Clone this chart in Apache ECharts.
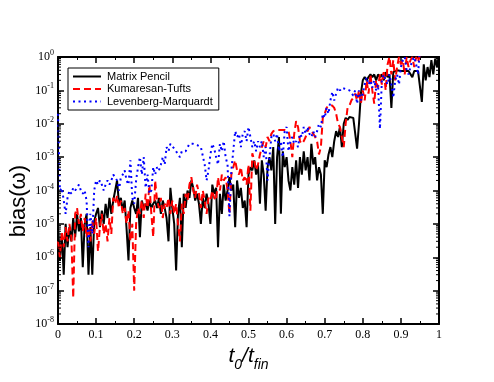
<!DOCTYPE html>
<html>
<head>
<meta charset="utf-8">
<script src="https://cdn.jsdelivr.net/npm/echarts@6/dist/echarts.min.js"></script>
<style>html,body{margin:0;padding:0;background:#fff;}#c{width:494px;height:382px;}</style>
</head>
<body>
<div id="c"></div>
<script>
const seriesNames = ['Matrix Pencil', 'Kumaresan-Tufts', 'Levenberg-Marquardt'];
const xTicks = [0, 0.1, 0.2, 0.3, 0.4, 0.5, 0.6, 0.7, 0.8, 0.9, 1];
const yTickExponents = [-8, -7, -6, -5, -4, -3, -2, -1, 0];

const t = [0,.005,.01,.015,.02,.025,.03,.035,.04,.045,.05,.055,.06,.065,.07,.075,.08,.085,.09,.095,
.1,.105,.11,.115,.12,.125,.13,.135,.14,.145,.15,.155,.16,.165,.17,.175,.18,.185,.19,.195,
.2,.205,.21,.215,.22,.225,.23,.235,.24,.245,.25,.255,.26,.265,.27,.275,.28,.285,.29,.295,
.3,.305,.31,.315,.32,.325,.33,.335,.34,.345,.35,.355,.36,.365,.37,.375,.38,.385,.39,.395,
.4,.405,.41,.415,.42,.425,.43,.435,.44,.445,.45,.455,.46,.465,.47,.475,.48,.485,.49,.495,
.5,.505,.51,.515,.52,.525,.53,.535,.54,.545,.55,.555,.56,.565,.57,.575,.58,.585,.59,.595,
.6,.605,.61,.615,.62,.625,.63,.635,.64,.645,.65,.655,.66,.665,.67,.675,.68,.685,.69,.695,
.7,.705,.71,.715,.72,.725,.73,.735,.74,.745,.75,.755,.76,.765,.77,.775,.78,.785,.79,.795,
.8,.805,.81,.815,.82,.825,.83,.835,.84,.845,.85,.855,.86,.865,.87,.875,.88,.885,.89,.895,
.9,.905,.91,.915,.92,.925,.93,.935,.94,.945,.95,.955,.96,.965,.97,.975,.98,.985,.99,.995,1];

const matrixPencil = [
1e-5,8e-7,5e-6,3e-7,1e-5,2e-6,8e-6,3e-6,1.5e-5,4e-6,
2e-5,6e-6,1.5e-5,5e-7,1e-5,2e-5,3e-7,8e-6,3e-7,1.2e-5,
2e-5,3e-5,8e-6,2.5e-5,1e-5,4e-5,1.5e-5,6e-5,2e-5,5e-5,
1e-4,2e-4,4e-5,6e-5,2.5e-5,5e-5,7e-6,8e-7,3e-5,5e-5,
3e-5,2e-5,6e-5,4e-6,5e-5,3e-5,4e-5,2.5e-5,5e-5,3e-5,
4e-5,5e-5,3e-5,6e-5,2e-5,5e-5,3e-5,1.5e-5,3e-6,1.2e-4,
3e-5,1e-5,4e-7,2e-5,6e-5,2e-6,8e-5,3e-5,1e-4,6e-5,
2e-4,1.2e-4,5e-5,8e-5,4e-5,1e-5,6e-5,3e-5,8e-5,4e-5,
1e-5,1.5e-4,8e-5,1.2e-4,2e-6,8e-5,2e-5,1.5e-4,5e-5,1e-4,
2.5e-4,1e-4,1.5e-4,8e-6,2e-4,6e-5,1.2e-4,3e-5,5e-5,8e-6,
3e-4,5e-4,4e-4,8e-4,3e-4,6e-4,4e-5,8e-4,3e-4,2.5e-5,
5e-4,1e-3,4e-4,2e-3,1e-5,1e-3,4e-3,2e-5,1.5e-3,5e-4,
1e-3,2e-4,1e-4,5e-4,1.5e-4,8e-4,1.2e-4,1e-3,3e-4,1.5e-3,
4e-4,1e-3,2e-4,2.5e-3,6e-4,1e-3,2e-4,5e-4,3e-4,2e-5,
8e-4,5e-4,1.2e-3,2e-3,1e-3,3e-3,6e-3,4e-3,8e-3,2e-3,
1e-2,1.5e-2,1.3e-2,1.6e-2,1.5e-2,1.5e-2,1.4e-2,1.8e-3,1e-2,8e-2,
2e-1,2.5e-1,2e-1,2.5e-1,3e-1,2.5e-1,3e-1,2e-1,3e-1,2.5e-1,
3e-1,2e-1,3.5e-1,2.5e-1,3e-1,3e-2,3.5e-1,4e-1,4e-1,4e-1,
3.8e-1,3.8e-1,3.8e-1,3.8e-1,3.8e-1,3.8e-1,2.5e-1,3.8e-1,3.8e-1,3.8e-1,
3.8e-1,4.5e-2,6e-1,2e-1,5e-1,2.5e-1,8e-1,3e-1,9e-1,5e-1,1.2];

const kumaresanTufts = [
3e-6,1e-6,6e-6,2e-6,8e-6,3e-6,1e-5,4e-6,6e-8,2e-5,
3e-5,1e-5,2e-5,6e-6,1.5e-5,4e-6,8e-6,3e-6,1.2e-5,5e-6,
1.5e-5,1.5e-6,8e-6,2e-5,5e-6,1e-5,3e-6,1.5e-5,5e-6,6e-5,
4e-5,7e-5,3e-5,5e-5,2e-5,3e-5,1e-5,2.5e-5,3e-6,1e-5,
1e-7,1e-5,3e-5,2e-5,5e-5,1.5e-5,8e-5,3e-5,1.5e-4,2e-5,
4e-6,2e-4,5e-5,3e-5,6e-5,1.5e-5,4e-5,3e-5,6e-5,2e-5,
5e-5,2e-5,4e-5,1e-5,3e-6,4e-5,2e-5,8e-5,5e-5,1.5e-4,
2.5e-4,1e-4,6e-5,1.5e-4,8e-5,3e-5,1e-4,5e-5,2e-5,6e-5,
5e-5,1e-4,6e-5,5e-5,2.5e-4,1e-4,3e-4,2e-4,2.5e-4,1e-4,
2e-5,3e-4,5e-4,8e-4,4e-4,3e-4,5e-4,2e-4,2.5e-4,1.5e-4,
6e-4,2.5e-5,1.3e-3,8e-4,4e-4,6e-4,1.2e-3,2e-3,3e-3,2e-3,
4e-3,3e-3,5e-3,6e-3,6.5e-3,6.5e-3,6.5e-3,6.5e-3,6.5e-3,6.5e-3,
6.5e-3,6e-3,3e-3,1e-3,5e-3,1.2e-2,8e-3,3e-3,2.5e-3,3e-3,
4e-3,6e-3,8e-3,6e-3,5e-3,4e-3,3e-3,1.2e-3,2e-3,1.5e-2,
2e-2,3e-2,3.5e-2,3.5e-2,3.5e-2,3e-2,2e-2,1e-2,8e-3,4e-3,
2e-3,1e-2,3e-2,3.5e-2,5e-2,6e-2,8e-2,5e-2,1e-1,4e-2,
1e-1,5e-2,2e-1,8e-2,3e-1,1e-1,4e-2,2e-1,1.2e-1,3e-1,
1.5e-1,4e-1,1e-1,6e-1,1,3e-1,8e-1,2e-1,5e-1,1,
6e-1,8e-1,3e-1,1,5e-1,8e-1,1,5e-1,1,7e-1,
1.2,1.2,1.2,1.2,1.2,1.2,1.2,1.2,1.2,1.2,1.2];

const levenbergMarquardt = [
2e-2,1e-4,1.2e-4,5e-5,2e-5,6e-5,1e-4,8e-5,1.2e-4,1e-4,
1.2e-4,1.5e-4,1e-4,8e-5,1e-4,5e-5,2e-6,2e-5,5e-6,1e-4,
2e-4,1.5e-4,2e-4,1.5e-4,1e-4,1.5e-4,2e-4,1.5e-4,2e-4,3e-4,
3e-4,2e-4,1e-4,2.5e-4,3e-4,4e-4,2e-4,1.5e-4,8e-4,6e-5,
4e-5,2e-4,5e-4,1e-3,3e-4,1e-3,1.2e-4,3e-4,8e-5,1e-4,
5e-4,3e-4,5e-4,4e-4,6e-4,1e-3,6e-4,2e-3,1.5e-3,2.5e-3,
2.5e-3,1.8e-3,1.5e-3,1.2e-3,1e-3,1.5e-3,1.7e-3,1.5e-3,1.7e-3,2.5e-3,
2.5e-3,2.5e-3,2.2e-3,2.3e-3,2.2e-3,2e-3,2e-3,6e-4,2e-4,4e-4,
1.2e-3,2.5e-3,1.8e-3,1e-3,6e-4,2.5e-3,1.5e-3,3e-3,1e-3,6e-4,
1.7e-5,4e-4,1.5e-3,6e-3,4e-3,5e-3,2e-3,5e-3,6e-3,3e-3,
8e-3,4e-3,2e-3,3e-3,1.5e-3,3e-3,2e-3,3e-3,1e-3,2e-3,
2e-4,1e-3,4e-3,5e-3,3e-3,5e-3,1.5e-3,3e-3,1e-3,6e-3,
8e-3,1.5e-3,3e-3,4e-3,2.5e-3,3e-3,2e-3,5e-3,4e-3,8e-3,
5e-3,8e-3,5e-3,4e-3,6e-3,4e-3,6e-3,1e-2,8e-3,2e-2,
1.5e-2,3e-2,2e-2,5e-2,9e-2,5e-2,8e-2,1.2e-1,1e-1,1.2e-1,
1.2e-1,1.1e-1,1.1e-1,1e-1,1.1e-1,7e-2,1e-1,4e-2,1e-1,5e-2,
8e-2,1.5e-1,2.5e-1,1.5e-1,2e-1,1.2e-1,2e-1,1e-1,1.5e-1,7e-3,
2e-1,3e-1,2e-1,1.5e-1,3e-1,1.5e-1,6e-2,2e-1,3e-1,1.5e-1,
5e-1,8e-1,1,4e-1,3e-1,5e-1,8e-1,1,6e-1,3e-1,
2,2,2,2,2,2,2,2,2,2,2];

const toPairs = arr => t.map((x, i) => [x, arr[i]]);

// minor tick positions on the log axis (2..9 within each decade)
const minorTickValues = [];
for (let e = -8; e < 0; e++) for (let k = 2; k <= 9; k++) minorTickValues.push([0, k * Math.pow(10, e)]);

const serifFont = 'Liberation Serif';
const sansFont = 'Liberation Sans';

const yLabelFmt = v => {
  const e = Math.round(Math.log10(v));
  if (yTickExponents.indexOf(e) < 0) return '';
  return '{b|10}{s|' + e + '}';
};

const chart = echarts.init(document.getElementById('c'), null, {renderer: 'canvas'});
const axisLine = {show: true, onZero: false, lineStyle: {color: '#000', width: 2}};
const hiddenSymbol = {color: 'rgba(0,0,0,0)', borderColor: 'rgba(0,0,0,0)', borderWidth: 0, opacity: 0};

chart.setOption({
  backgroundColor: '#fff',
  animation: false,
  grid: {left: 58, right: 55, top: 57, bottom: 58, containLabel: false},
  legend: {
    data: seriesNames,
    orient: 'vertical',
    left: 68, top: 68,
    padding: [3, 6, 3, 4],
    itemGap: 1.5,
    itemWidth: 28,
    itemHeight: 11,
    borderColor: '#000',
    borderWidth: 1,
    backgroundColor: '#fff',
    itemStyle: hiddenSymbol,
    textStyle: {fontFamily: sansFont, fontSize: 11, color: '#000', padding: [0, 0, 0, 1]}
  },
  xAxis: [{
    type: 'value', min: 0, max: 1, interval: 0.1,
    axisLine: axisLine,
    axisTick: {show: true, inside: true, length: 6, lineStyle: {color: '#000', width: 1.5}},
    minorTick: {show: true, splitNumber: 2, length: 3, lineStyle: {color: '#000', width: 1}},
    splitLine: {show: false},
    axisLabel: {fontFamily: serifFont, fontSize: 12, color: '#000', margin: 5,
      formatter: v => (xTicks.indexOf(Math.round(v * 10) / 10) >= 0 ? String(Math.round(v * 10) / 10) : '')},
    name: '{t|t}{sub|0}{t|/t}{sub|fin}',
    nameLocation: 'middle',
    nameGap: 22,
    nameTextStyle: {
      rich: {
        t: {fontFamily: sansFont, fontStyle: 'italic', fontSize: 21, color: '#000', verticalAlign: 'bottom'},
        sub: {fontFamily: sansFont, fontStyle: 'italic', fontSize: 14, color: '#000', verticalAlign: 'bottom', padding: [0, 0, -5, 0]}
      }
    }
  }, {
    type: 'value', min: 0, max: 1, interval: 0.1, position: 'top',
    axisLine: axisLine,
    axisTick: {show: true, inside: true, length: 6, lineStyle: {color: '#000', width: 1.5}},
    minorTick: {show: true, splitNumber: 2, length: 3, lineStyle: {color: '#000', width: 1}},
    splitLine: {show: false},
    axisLabel: {show: false}
  }],
  yAxis: [{
    type: 'log', logBase: 10, min: 1e-8, max: 1,
    axisLine: axisLine,
    axisTick: {show: true, inside: true, length: 6, lineStyle: {color: '#000', width: 1.5}},
    splitLine: {show: false},
    axisLabel: {
      margin: 4, formatter: yLabelFmt,
      rich: {
        b: {fontFamily: serifFont, fontSize: 12, color: '#000'},
        s: {fontFamily: serifFont, fontSize: 8, color: '#000', verticalAlign: 'top', padding: [0, 0, 8, 0]}
      }
    }
  }, {
    type: 'log', logBase: 10, min: 1e-8, max: 1, position: 'right',
    axisLine: axisLine,
    axisTick: {show: true, inside: true, length: 6, lineStyle: {color: '#000', width: 1.5}},
    splitLine: {show: false},
    axisLabel: {show: false}
  }],
  graphic: [{
    type: 'text', left: 8, top: 165, rotation: Math.PI / 2,
    style: {text: 'bias(ω)', font: '22px "Liberation Sans"', fill: '#000'}
  }],
  series: [{
    name: seriesNames[0], type: 'line', data: toPairs(matrixPencil),
    showSymbol: false, symbol: 'none', clip: true,
    lineStyle: {color: '#000', width: 2}, itemStyle: {color: '#000'}
  }, {
    name: seriesNames[1], type: 'line', data: toPairs(kumaresanTufts),
    showSymbol: false, symbol: 'none', clip: true,
    lineStyle: {color: '#ff0000', width: 2, type: [7, 4]}, itemStyle: {color: '#ff0000'}
  }, {
    name: seriesNames[2], type: 'line', data: toPairs(levenbergMarquardt),
    showSymbol: false, symbol: 'none', clip: true,
    lineStyle: {color: '#0000ff', width: 2, type: [2, 3.5]}, itemStyle: {color: '#0000ff'}
  }, {
    type: 'custom', data: minorTickValues, silent: true, clip: false, z: 10,
    renderItem: (params, api) => {
      const v = api.value(1);
      const pl = api.coord([0, v]);
      const pr = api.coord([1, v]);
      return {type: 'group', children: [
        {type: 'line', shape: {x1: pl[0], y1: pl[1], x2: pl[0] + 3, y2: pl[1]}, style: {stroke: '#000', lineWidth: 1}},
        {type: 'line', shape: {x1: pr[0], y1: pr[1], x2: pr[0] - 3, y2: pr[1]}, style: {stroke: '#000', lineWidth: 1}}
      ]};
    }
  }]
});
</script>
</body>
</html>
